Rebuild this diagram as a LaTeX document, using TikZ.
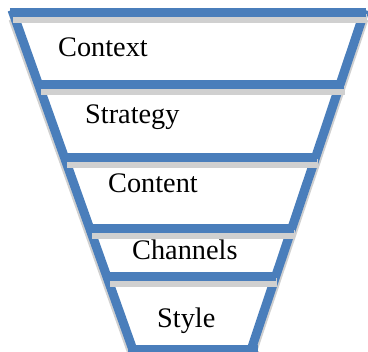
\documentclass[tikz,border=0pt]{standalone}
\usepackage{fontspec}
\setmainfont{Liberation Serif}
\definecolor{funnelblue}{RGB}{74,126,187}
\definecolor{shadowgray}{RGB}{208,208,208}
\tikzset{
  bar/.style={draw=funnelblue, line width=9pt, line cap=butt},
  barshadow/.style={draw=shadowgray, line width=9pt, line cap=butt},
  label/.style={anchor=base west, inner sep=0pt, font=\fontsize{28.3}{30}\selectfont}
}
\begin{document}
\begin{tikzpicture}[x=1pt,y=-1pt]
\useasboundingbox (0,0) rectangle (368,352);
\fill[white] (0,0) rectangle (368,352);
% corner coordinates
\coordinate (tl) at (13,13);
\coordinate (bl) at (133,350);
\coordinate (tr) at (364,13);
\coordinate (br) at (251,350);
% slanted sides: shadow then blue
\draw[barshadow] ([yshift=-6pt]tl) -- ([yshift=-6pt]bl);
\draw[barshadow] ([yshift=-6pt]tr) -- ([yshift=-6pt]br);
\draw[bar] (12,10) -- (bl);
\draw[bar] (365,10) -- (br);
% horizontal bars: shadows
\foreach \y/\xl/\xr in {12.5/10/366, 84.5/38/344, 157.5/64/317, 229/89/294, 277/107/276, 350/128/258}{
  \draw[barshadow] (\xl+3,\y+6) -- (\xr+1,\y+6);
}
% horizontal bars: blue
\foreach \y/\xl/\xr in {12.5/10/366, 84.5/38/344, 157.5/64/317, 229/89/294, 277/107/276, 350/128/258}{
  \draw[bar] (\xl,\y) -- (\xr,\y);
}
% labels
\node[label] (context)  at (58,57)  {Context};
\node[label] (strategy) at (85,124) {Strategy};
\node[label] (content)  at (108,193) {Content};
\node[label] (channels) at (132,260) {Channels};
\node[label] (style)    at (157,328) {Style};
\end{tikzpicture}
\end{document}
